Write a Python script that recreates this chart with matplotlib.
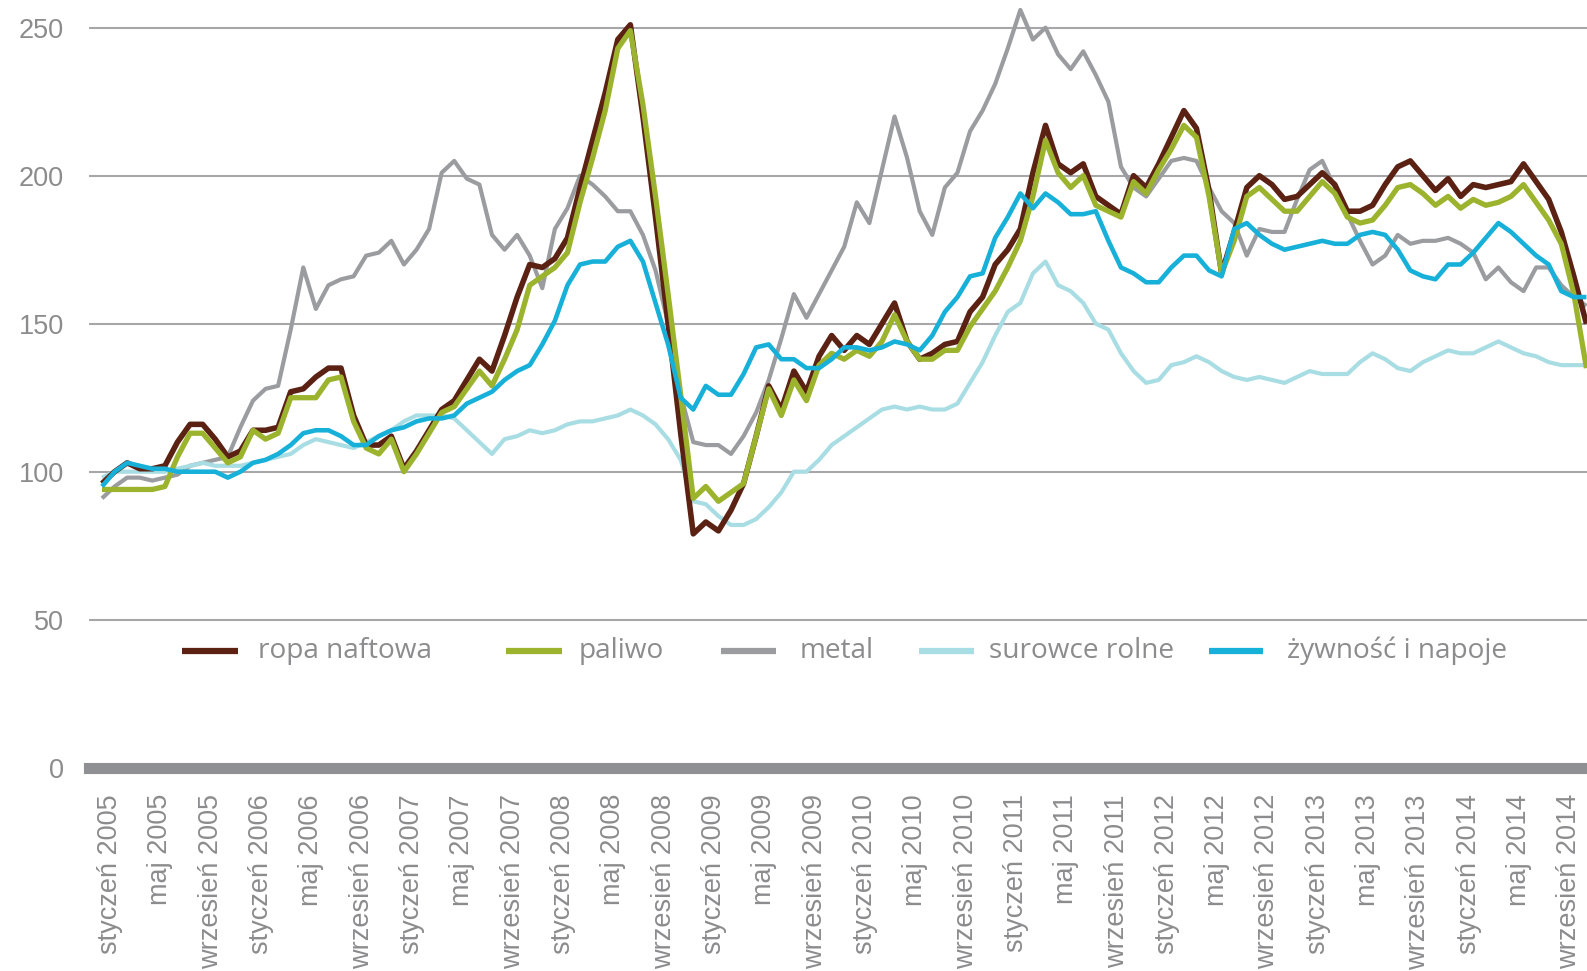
import numpy as np
import matplotlib
matplotlib.use("Agg")
import matplotlib.pyplot as plt
from matplotlib.lines import Line2D
from matplotlib import font_manager

# ---------------- data (monthly, styczeń 2005 .. listopad 2014) ----------------
ropa = [96, 100, 103, 101, 101, 102, 110, 116, 116, 111,
        105, 107, 114, 114, 115, 127, 128, 132, 135, 135,
        119, 109, 109, 112, 101, 107, 114, 121, 124, 131,
        138, 134, 146, 159, 170, 169, 172, 179, 196, 212,
        228, 246, 251, 220, 186, 150, 113, 79, 83, 80,
        87, 96, 112, 129, 121, 134, 127, 139, 146, 141,
        146, 143, 150, 157, 144, 138, 140, 143, 144, 154,
        159, 170, 175, 182, 201, 217, 204, 201, 204, 193,
        190, 187, 200, 196, 204, 213, 222, 216, 195, 167,
        181, 196, 200, 197, 192, 193, 197, 201, 197, 188,
        188, 190, 197, 203, 205, 200, 195, 199, 193, 197,
        196, 197, 198, 204, 198, 192, 181, 166, 150]

paliwo = [94, 94, 94, 94, 94, 95, 105, 113, 113, 108,
          103, 105, 114, 111, 113, 125, 125, 125, 131, 132,
          117, 108, 106, 111, 100, 106, 113, 120, 122, 128,
          134, 129, 138, 148, 163, 166, 169, 174, 191, 206,
          222, 243, 249, 224, 193, 160, 126, 91, 95, 90,
          93, 96, 112, 128, 119, 131, 124, 136, 140, 138,
          141, 139, 144, 153, 144, 138, 138, 141, 141, 149,
          155, 161, 169, 178, 193, 212, 201, 196, 200, 190,
          188, 186, 198, 194, 202, 209, 217, 213, 193, 167,
          178, 193, 196, 192, 188, 188, 193, 198, 194, 186,
          184, 185, 190, 196, 197, 194, 190, 193, 189, 192,
          190, 191, 193, 197, 191, 185, 177, 160, 135]

metal = [91, 95, 98, 98, 97, 98, 99, 102, 103, 104,
         105, 115, 124, 128, 129, 148, 169, 155, 163, 165,
         166, 173, 174, 178, 170, 175, 182, 201, 205, 199,
         197, 180, 175, 180, 173, 162, 182, 189, 200, 197,
         193, 188, 188, 180, 168, 150, 126, 110, 109, 109,
         106, 112, 120, 131, 145, 160, 152, 160, 168, 176,
         191, 184, 202, 220, 206, 188, 180, 196, 201, 215,
         222, 231, 243, 256, 246, 250, 241, 236, 242, 234,
         225, 203, 196, 193, 199, 205, 206, 205, 196, 188,
         184, 173, 182, 181, 181, 192, 202, 205, 196, 187,
         178, 170, 173, 180, 177, 178, 178, 179, 177, 174,
         165, 169, 164, 161, 169, 169, 163, 159, 156]

surowce = [98, 100, 100, 100, 100, 100, 101, 102, 103, 102,
           102, 102, 103, 104, 105, 106, 109, 111, 110, 109,
           108, 110, 112, 114, 117, 119, 119, 119, 118, 114,
           110, 106, 111, 112, 114, 113, 114, 116, 117, 117,
           118, 119, 121, 119, 116, 111, 104, 90, 89, 85,
           82, 82, 84, 88, 93, 100, 100, 104, 109, 112,
           115, 118, 121, 122, 121, 122, 121, 121, 123, 130,
           137, 146, 154, 157, 167, 171, 163, 161, 157, 150,
           148, 140, 134, 130, 131, 136, 137, 139, 137, 134,
           132, 131, 132, 131, 130, 132, 134, 133, 133, 133,
           137, 140, 138, 135, 134, 137, 139, 141, 140, 140,
           142, 144, 142, 140, 139, 137, 136, 136, 136]

zywnosc = [95, 100, 103, 102, 101, 101, 100, 100, 100, 100,
           98, 100, 103, 104, 106, 109, 113, 114, 114, 112,
           109, 109, 112, 114, 115, 117, 118, 118, 119, 123,
           125, 127, 131, 134, 136, 143, 151, 163, 170, 171,
           171, 176, 178, 171, 157, 143, 125, 121, 129, 126,
           126, 133, 142, 143, 138, 138, 135, 135, 138, 142,
           142, 141, 142, 144, 143, 141, 146, 154, 159, 166,
           167, 179, 186, 194, 189, 194, 191, 187, 187, 188,
           178, 169, 167, 164, 164, 169, 173, 173, 168, 166,
           182, 184, 180, 177, 175, 176, 177, 178, 177, 177,
           180, 181, 180, 175, 168, 166, 165, 170, 170, 174,
           179, 184, 181, 177, 173, 170, 161, 159, 159]

tick_labels = ["styczeń 2005", "maj 2005", "wrzesień 2005",
               "styczeń 2006", "maj 2006", "wrzesień 2006",
               "styczeń 2007", "maj 2007", "wrzesień 2007",
               "styczeń 2008", "maj 2008", "wrzesień 2008",
               "styczeń 2009", "maj 2009", "wrzesień 2009",
               "styczeń 2010", "maj 2010", "wrzesień 2010",
               "styczeń 2011", "maj 2011", "wrzesień 2011",
               "styczeń 2012", "maj 2012", "wrzesień 2012",
               "styczeń 2013", "maj 2013", "wrzesień 2013",
               "styczeń 2014", "maj 2014", "wrzesień 2014"]

series_names = ["ropa naftowa", "paliwo", "metal", "surowce rolne", "żywność i napoje"]
colors = ["#5b2214", "#9cb32e", "#9b9ca0", "#a9dde4", "#17b0d9"]
widths = [4.0, 3.8, 3.0, 3.0, 3.3]

# ---------------- fonts ----------------
avail = {f.name for f in font_manager.fontManager.ttflist}
if "Liberation Sans Narrow" in avail:
    tick_family, tick_size = "Liberation Sans Narrow", 23.5
else:
    tick_family, tick_size = "Liberation Sans", 19.5
legend_family = "Open Sans" if "Open Sans" in avail else "DejaVu Sans"
text_gray = "#8c8c8e"

W, H = 1587, 971
fig = plt.figure(figsize=(W / 100, H / 100), dpi=100)
fig.patch.set_facecolor("white")

ax_left, ax_bottom = 89, 767.7       # pixel positions (full image)
ax = fig.add_axes([ax_left / W, 1 - ax_bottom / H, 1 - ax_left / W, ax_bottom / H])
x0_px, dx_px, px_per_unit = 102.0, 12.58, 2.96
ax.set_xlim((ax_left - x0_px) / dx_px, (W - x0_px) / dx_px)
ax.set_ylim(0, ax_bottom / px_per_unit)

x = np.arange(len(ropa))
data = [ropa, paliwo, metal, surowce, zywnosc]
zorders = [4, 5, 2, 3, 6]
for vals, c, lw, z in zip(data, colors, widths, zorders):
    ax.plot(x, vals, color=c, lw=lw, zorder=z, solid_joinstyle="round",
            solid_capstyle="butt", clip_on=True)

# grid
for gy in [50, 100, 150, 200, 250]:
    ax.axhline(gy, color="#a7a7aa", lw=1.5, zorder=1)
ax.axhline(0, color="#8f9093", lw=8, zorder=1, clip_on=False)

for s in ax.spines.values():
    s.set_visible(False)

ax.set_yticks([0, 50, 100, 150, 200, 250])
ax.set_yticklabels(["0", "50", "100", "150", "200", "250"])
ax.tick_params(axis="y", length=0, pad=18, labelcolor=text_gray, labelsize=tick_size)
for lab in ax.get_yticklabels():
    lab.set_family(tick_family)

ax.set_xticks(np.arange(0, 117, 4) + 0.65)
ax.set_xticklabels(tick_labels, rotation=90, va="top", ha="center")
ax.tick_params(axis="x", length=0, pad=19, labelcolor=text_gray, labelsize=tick_size)
for lab in ax.get_xticklabels():
    lab.set_family(tick_family)

# legend (manual, single row inside plot area)
leg_y = 1 - 651 / H
sample_px = [(182, 238), (506, 562), (721, 776), (919, 974), (1209, 1263)]
text_px = [258, 579, 800, 989, 1287]
for name, c, (a, b), tx in zip(series_names, colors, sample_px, text_px):
    fig.add_artist(Line2D([a / W, b / W], [leg_y, leg_y], color=c, lw=4.5,
                          solid_capstyle="butt", transform=fig.transFigure))
    fig.text(tx / W, leg_y, name, color=text_gray, fontsize=20.2,
             family=legend_family, va="center", ha="left")

fig.savefig("out.png", dpi=100, facecolor="white")
